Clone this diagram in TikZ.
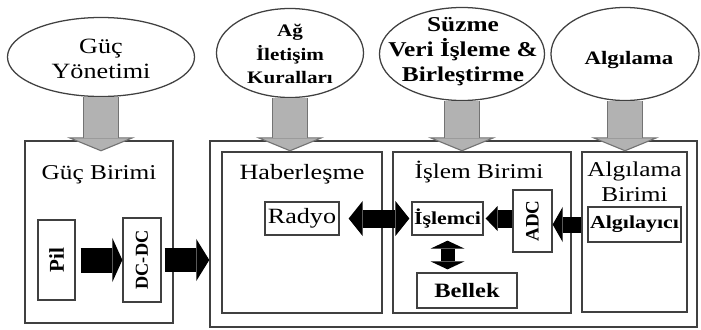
\documentclass[tikz,border=0pt]{standalone}
\usepackage{fontspec}
\setmainfont{Liberation Serif}
\usetikzlibrary{shapes.geometric,arrows.meta,positioning}
\newcommand{\sx}[1]{\scalebox{1.2}[1]{#1}}

\begin{document}
\begin{tikzpicture}[x=0.025cm, y=-0.025cm,
	box/.style={draw=black!75, line width=0.9pt, inner sep=0pt},
	bubble/.style={ellipse, draw=black!75, line width=0.9pt, fill=white, inner sep=0pt},
	title/.style={font=\fontsize{15}{17.8}\selectfont, align=center},
	part/.style={font=\fontsize{13}{15}\selectfont\bfseries},
	grayback/.style={draw=black!55, line width=0.9cm, -{Triangle[length=0.35cm 0 0, width=1.7cm 0 0, line width=0.8pt 0 0, fill=black!30]}},
	grayfront/.style={draw=black!30, line width=0.85cm, shorten >=0.33cm},
	blkhead/.style 2 args={>={Triangle[length=#2 0 0, width=#1 0 0, line width=0pt 0 0]}}]
	\useasboundingbox (0,0) rectangle (701,329);

	% boxes
	\node[box, minimum width=12.175cm, minimum height=4.65cm] (bigbox) at (453.5,234) {};
	\node[box, minimum width=3.7cm, minimum height=4.55cm] (gucbox) at (99,232) {};
	\node[box, minimum width=4cm, minimum height=4.025cm] (haber) at (302,232.5) {};
	\node[box, minimum width=4.45cm, minimum height=4.025cm] (islem) at (482,232.5) {};
	\node[box, minimum width=2.625cm, minimum height=4cm] (algbox) at (634.5,232) {};

	\node[title] (gucL) at (99,175) {\sx{Güç Birimi}};
	\node[title, font=\fontsize{15.5}{17.8}\selectfont] (haberL) at (302,174) {\sx{Haberleşme}};
	\node[title] (islemL) at (479,172) {\sx{İşlem Birimi}};
	\node[title] (algL) at (634.5,182) {\sx{Algılama}\\\sx{Birimi}};

	\node[box, minimum width=0.925cm, minimum height=2cm] (pil) at (56.5,260) {\rotatebox{90}{\fontsize{15}{17}\selectfont\bfseries Pil}};
	\node[box, minimum width=0.95cm, minimum height=2.1cm] (dcdc) at (142,260) {\rotatebox{90}{\fontsize{13}{15}\selectfont\bfseries DC-DC}};
	\node[box, minimum width=1.85cm, minimum height=0.825cm, font=\fontsize{15.5}{17}\selectfont] (radyo) at (302,218.5) {\sx{Radyo}};
	\node[box, part, minimum width=1.775cm, minimum height=0.825cm] (islemci) at (447.5,218.5) {\sx{İşlemci}};
	\node[box, minimum width=0.975cm, minimum height=1.55cm] (adc) at (532.5,221) {\rotatebox{90}{\fontsize{13.5}{15}\selectfont\bfseries ADC}};
	\node[box, part, minimum width=2.325cm, minimum height=0.875cm] (algilayici) at (634.5,224.5) {\sx{Algılayıcı}};
	\node[box, part, font=\fontsize{14.5}{16}\selectfont\bfseries, minimum width=2.5cm, minimum height=0.875cm] (bellek) at (467,290.5) {\sx{Bellek}};

	% ellipses
	\node[bubble, minimum width=4.675cm, minimum height=1.975cm] (pwr) at (101,57) {};
	\node[bubble, minimum width=3.675cm, minimum height=2.225cm] (net) at (290,53) {};
	\node[bubble, minimum width=4.125cm, minimum height=2.325cm] (fuse) at (462,54) {};
	\node[bubble, minimum width=3.7cm, minimum height=2.325cm] (sense) at (625,54) {};
	\node[title, font=\fontsize{15.5}{17.8}\selectfont] (pwrL) at (101,59) {\sx{Güç}\\\sx{Yönetimi}};
	\node[title, font=\fontsize{12.5}{17}\selectfont\bfseries] (netL) at (290,54) {\sx{Ağ}\\\sx{İletişim}\\\sx{Kuralları}};
	\node[title, font=\fontsize{15}{17.8}\selectfont\bfseries] (fuseL) at (463,52) {\sx{Süzme}\\\sx{Veri İşleme \&}\\\sx{Birleştirme}};
	\node[title, font=\fontsize{13.5}{16}\selectfont\bfseries] (senseL) at (629,60) {\sx{Algılama}};

	% gray arrows
	\draw[grayback] (pwr.south) -- (pwr.south |- haber.north);
	\draw[grayfront] (pwr.south) -- (pwr.south |- haber.north);
	\draw[grayback] (net.south) -- (net.south |- haber.north);
	\draw[grayfront] (net.south) -- (net.south |- haber.north);
	\draw[grayback] (fuse.south) -- (fuse.south |- haber.north);
	\draw[grayfront] (fuse.south) -- (fuse.south |- haber.north);
	\draw[grayback] (sense.south) -- (sense.south |- haber.north);
	\draw[grayfront] (sense.south) -- (sense.south |- haber.north);

	% black arrows
	\draw[blkhead={1.1cm}{0.25cm}, line width=0.625cm, ->, shorten <=0.125cm] (pil.east) -- (pil.east -| dcdc.west);
	\draw[blkhead={1.05cm}{0.325cm}, line width=0.6cm, ->, shorten <=0.075cm] (dcdc.east) -- (dcdc.east -| bigbox.west);
	\draw[blkhead={0.875cm}{0.35cm}, line width=0.45cm, <->, shorten <=0.225cm, shorten >=0.05cm] (radyo.east) -- (islemci.west);
	\draw[blkhead={0.625cm}{0.3cm}, line width=0.45cm, ->, shorten >=0.05cm] (adc.west |- islemci.east) -- (islemci.east);
	\draw[blkhead={0.875cm}{0.25cm}, line width=0.4cm, ->] (algbox.west |- algilayici.west) -- (adc.east |- algilayici.west);
	\draw[blkhead={0.85cm}{0.2cm}, line width=0.35cm, <->, shorten <=0.125cm, shorten >=0.075cm] (islemci.south) -- (islemci.south |- bellek.north);
\end{tikzpicture}
\end{document}
